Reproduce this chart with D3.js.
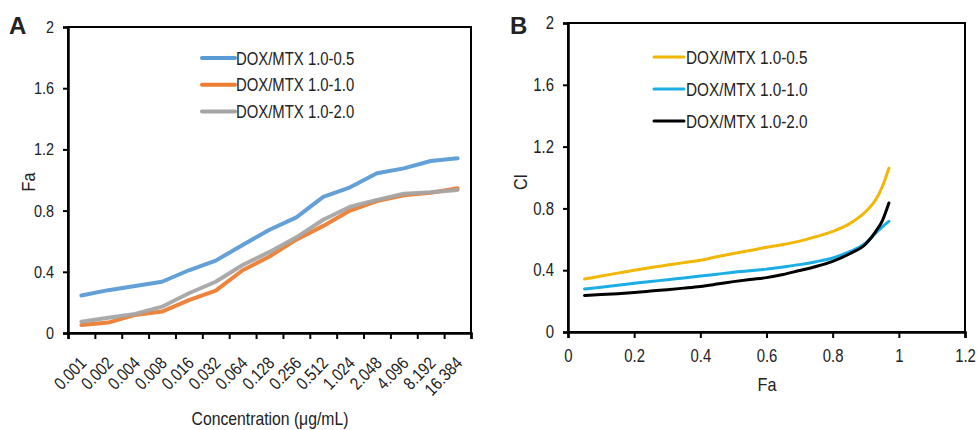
<!DOCTYPE html>
<html>
<head>
<meta charset="utf-8">
<script src="https://cdn.jsdelivr.net/npm/d3@7"></script>
<style>
  body { margin: 0; background: #fff; }
  svg text { font-family: "Liberation Sans", Arial, sans-serif; fill: #222; }
</style>
</head>
<body>
<svg id="chart" width="978" height="430"></svg>
<script>
// Panel A: Fa vs concentration
const concLabels = ["0.001", "0.002", "0.004", "0.008", "0.016", "0.032", "0.064", "0.128",
  "0.256", "0.512", "1.024", "2.048", "4.096", "8.192", "16.384"];
const faRatio05 = [0.245, 0.28, 0.307, 0.335, 0.41, 0.473, 0.575, 0.675, 0.756, 0.89, 0.952, 1.044, 1.076, 1.124, 1.142];
const faRatio10 = [0.052, 0.068, 0.118, 0.14, 0.215, 0.277, 0.41, 0.5, 0.61, 0.70, 0.80, 0.862, 0.90, 0.917, 0.946];
const faRatio20 = [0.074, 0.10, 0.124, 0.172, 0.26, 0.335, 0.444, 0.53, 0.625, 0.74, 0.825, 0.87, 0.91, 0.92, 0.935];

// Panel B: CI vs Fa
const faPoints = [0.05, 0.1, 0.15, 0.2, 0.25, 0.3, 0.35, 0.4, 0.45, 0.5, 0.55, 0.6, 0.65, 0.7, 0.75, 0.8, 0.85, 0.9, 0.93, 0.95, 0.97];
const ciRatio05 = [0.343, 0.362, 0.381, 0.40, 0.417, 0.433, 0.449, 0.464, 0.487, 0.508, 0.527, 0.548, 0.566, 0.588, 0.617, 0.651, 0.70, 0.78, 0.856, 0.94, 1.06];
const ciRatio10 = [0.278, 0.29, 0.303, 0.315, 0.327, 0.338, 0.35, 0.362, 0.374, 0.387, 0.397, 0.407, 0.421, 0.436, 0.455, 0.479, 0.518, 0.576, 0.64, 0.68, 0.716];
const ciRatio20 = [0.237, 0.242, 0.248, 0.256, 0.265, 0.274, 0.284, 0.295, 0.31, 0.326, 0.34, 0.352, 0.372, 0.398, 0.424, 0.457, 0.505, 0.57, 0.65, 0.72, 0.835];

const seriesNames = ["DOX/MTX 1.0-0.5", "DOX/MTX 1.0-1.0", "DOX/MTX 1.0-2.0"];
const yTicks = [0, 0.4, 0.8, 1.2, 1.6, 2];
const xTicksB = [0, 0.2, 0.4, 0.6, 0.8, 1, 1.2];

const svg = d3.select("#chart");
const fmt = d => d === 0 ? "0" : d3.format("~g")(d);

function styleAxis(a, size) {
  a.selectAll(".domain").attr("stroke", "#000").attr("stroke-width", 2.5);
  a.selectAll(".tick line").attr("stroke", "#000").attr("stroke-width", 2);
  a.selectAll("text").style("font-size", size + "px").attr("fill", "#222");
}

// ---------- Panel A ----------
const gA = svg.append("g");
const xA = d3.scaleBand().domain(concLabels).range([68, 471]).padding(0);
const xAedge = d3.scaleLinear().domain([0, concLabels.length]).range([68, 471]);
const yA = d3.scaleLinear().domain([0, 2]).range([333, 27]);

gA.append("rect").attr("x", 68).attr("y", 27).attr("width", 403).attr("height", 306)
  .attr("fill", "none").attr("stroke", "#000").attr("stroke-width", 2);

const colorsA = ["#5b9bd5", "#ed7d31", "#a5a5a5"];
const lineA = d3.line().x((d, i) => xA(concLabels[i]) + xA.bandwidth() / 2).y(d => yA(d));
[faRatio05, faRatio10, faRatio20].forEach((s, k) => {
  gA.append("path").datum(s).attr("d", lineA)
    .attr("fill", "none").attr("stroke", colorsA[k]).attr("stroke-width", 4)
    .attr("stroke-linejoin", "round").attr("stroke-linecap", "round").attr("opacity", 0.95);
});

const yAxisA = gA.append("g").attr("transform", "translate(68,0)")
  .call(d3.axisLeft(yA).tickValues(yTicks).tickSize(5).tickPadding(9).tickFormat(fmt));
const xEdgeAxis = gA.append("g").attr("transform", "translate(0,333)")
  .call(d3.axisBottom(xAedge).tickValues(d3.range(concLabels.length + 1)).tickSize(6).tickFormat(""));
const xAxisA = gA.append("g").attr("transform", "translate(0,333)")
  .call(d3.axisBottom(xA).tickSize(0).tickPadding(0));
xAxisA.selectAll("text")
  .attr("text-anchor", "end")
  .attr("y", 0).attr("dy", 0)
  .attr("transform", "translate(6,31) rotate(-46)");
styleAxis(yAxisA, 17);
styleAxis(xEdgeAxis, 17);
styleAxis(xAxisA, 17.5);
xAxisA.select(".domain").remove();

gA.append("text").attr("class", "letter").attr("x", 9).attr("y", 34).text("A");
gA.append("text").attr("transform", "translate(35,182) rotate(-90)").attr("text-anchor", "middle")
  .text("Fa").style("font-size", "19px");
gA.append("text").attr("x", 270).attr("y", 425).attr("text-anchor", "middle")
  .text("Concentration (\u03bcg/mL)").style("font-size", "18.5px");

seriesNames.forEach((n, k) => {
  const y = 58 + k * 26.7;
  gA.append("line").attr("x1", 202).attr("x2", 235).attr("y1", y).attr("y2", y)
    .attr("stroke", colorsA[k]).attr("stroke-width", 4).attr("stroke-linecap", "round");
  gA.append("text").attr("x", 236).attr("y", y + 6.5).text(n).style("font-size", "17.5px");
});

// ---------- Panel B ----------
const gB = svg.append("g");
const xB = d3.scaleLinear().domain([0, 1.2]).range([568, 965]);
const yB = d3.scaleLinear().domain([0, 2]).range([332, 23]);

gB.append("rect").attr("x", 568).attr("y", 23).attr("width", 397).attr("height", 309)
  .attr("fill", "none").attr("stroke", "#000").attr("stroke-width", 2);

const colorsB = ["#f2b705", "#1aaee5", "#000000"];
const lineB = d3.line().x((d, i) => xB(faPoints[i])).y(d => yB(d)).curve(d3.curveMonotoneX);
[ciRatio05, ciRatio10, ciRatio20].forEach((s, k) => {
  gB.append("path").datum(s).attr("d", lineB)
    .attr("fill", "none").attr("stroke", colorsB[k]).attr("stroke-width", 3)
    .attr("stroke-linejoin", "round").attr("stroke-linecap", "round");
});

const yAxisB = gB.append("g").attr("transform", "translate(568,0)")
  .call(d3.axisLeft(yB).tickValues(yTicks).tickSize(5).tickPadding(9).tickFormat(fmt));
const xAxisB = gB.append("g").attr("transform", "translate(0,332)")
  .call(d3.axisBottom(xB).tickValues(xTicksB).tickSize(6).tickPadding(12).tickFormat(fmt));
styleAxis(yAxisB, 17.5);
styleAxis(xAxisB, 17.5);

gB.append("text").attr("class", "letter").attr("x", 510).attr("y", 34).text("B");
gB.append("text").attr("transform", "translate(527,182) rotate(-90)").attr("text-anchor", "middle")
  .text("CI").style("font-size", "19px");
gB.append("text").attr("x", 767).attr("y", 391).attr("text-anchor", "middle")
  .text("Fa").style("font-size", "19px");

seriesNames.forEach((n, k) => {
  const y = 57 + k * 32;
  gB.append("line").attr("x1", 654).attr("x2", 684).attr("y1", y).attr("y2", y)
    .attr("stroke", colorsB[k]).attr("stroke-width", 3).attr("stroke-linecap", "round");
  gB.append("text").attr("x", 686).attr("y", y + 6.5).text(n).style("font-size", "18px");
});

// panel letters
svg.selectAll("text.letter").style("font-size", "24px").style("font-weight", "bold").attr("fill", "#000");

// the figure text is a narrow sans: squeeze every label horizontally
svg.selectAll("text:not(.letter)").each(function() {
  const w = this.getComputedTextLength();
  this.setAttribute("textLength", (w * 0.85).toFixed(1));
  this.setAttribute("lengthAdjust", "spacingAndGlyphs");
});
</script>
</body>
</html>
